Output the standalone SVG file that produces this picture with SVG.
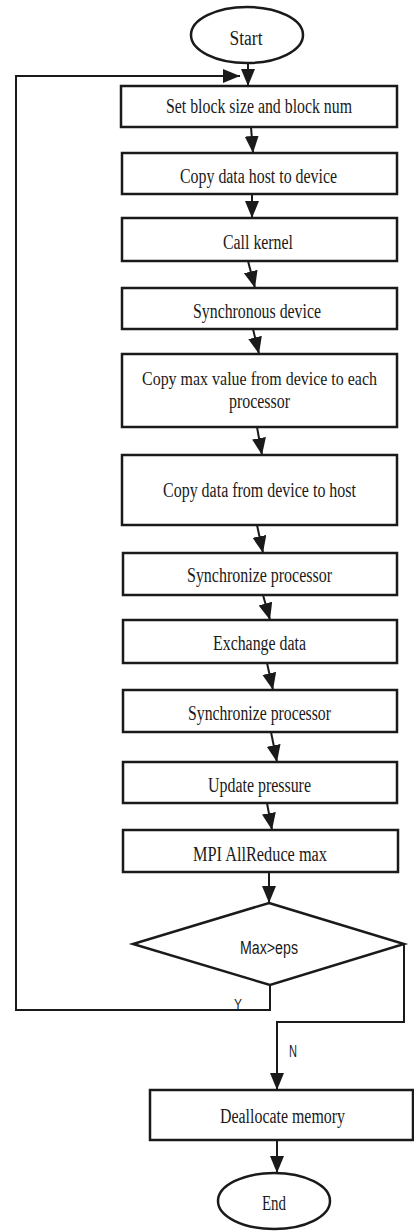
<svg xmlns="http://www.w3.org/2000/svg" width="414" height="1231" viewBox="0 0 414 1231">
<style>
.box{fill:#fff;stroke:#1a1a1a;stroke-width:2.5}
.t{font-family:"Liberation Serif","Times New Roman",serif;font-size:20px;fill:#1a1a1a;text-anchor:middle}
.s{font-family:"Liberation Sans",Arial,sans-serif;fill:#1a1a1a;text-anchor:middle}
.c{fill:none;stroke:#1a1a1a;stroke-width:2}
</style>
<defs>
<marker id="ah" markerUnits="userSpaceOnUse" markerWidth="18" markerHeight="16" refX="17" refY="7" orient="auto">
<path d="M0,0 L17,7 L0,14 z" fill="#1a1a1a"/>
</marker>
</defs>
<rect width="414" height="1231" fill="#fff"/>
<g id="connectors">
<line class="c" x1="248" y1="63" x2="248" y2="86" marker-end="url(#ah)"/>
<path class="c" d="M270,985 V1010 H16 V76 H240" marker-end="url(#ah)"/>
<line class="c" x1="251" y1="127" x2="253" y2="153" marker-end="url(#ah)"/>
<line class="c" x1="252" y1="194" x2="252" y2="218" marker-end="url(#ah)"/>
<line class="c" x1="248" y1="261" x2="255" y2="288" marker-end="url(#ah)"/>
<line class="c" x1="253" y1="329" x2="259" y2="354" marker-end="url(#ah)"/>
<line class="c" x1="257" y1="427" x2="262" y2="455" marker-end="url(#ah)"/>
<line class="c" x1="257" y1="525" x2="263" y2="553" marker-end="url(#ah)"/>
<line class="c" x1="263" y1="595" x2="270" y2="620" marker-end="url(#ah)"/>
<line class="c" x1="267" y1="663" x2="273" y2="690" marker-end="url(#ah)"/>
<line class="c" x1="271" y1="732" x2="277" y2="762" marker-end="url(#ah)"/>
<line class="c" x1="267" y1="803" x2="272" y2="830" marker-end="url(#ah)"/>
<line class="c" x1="269" y1="872" x2="269" y2="903" marker-end="url(#ah)"/>
<path class="c" d="M404,944 V1022 H277 V1090" marker-end="url(#ah)"/>
<line class="c" x1="277" y1="1140" x2="277" y2="1173" marker-end="url(#ah)"/>
<text class="s" x="238" y="1009" font-size="14" textLength="8" lengthAdjust="spacingAndGlyphs">Y</text>
<text class="s" x="293" y="1057" font-size="16" textLength="8" lengthAdjust="spacingAndGlyphs">N</text>
</g>
<g id="start">
<ellipse class="box" cx="247" cy="35" rx="56" ry="28"/>
<text class="t" x="246" y="45" textLength="33" lengthAdjust="spacingAndGlyphs">Start</text>
</g>
<g id="n1">
<rect class="box" x="121" y="86" width="276" height="41"/>
<text class="t" x="259" y="113" textLength="186" lengthAdjust="spacingAndGlyphs">Set block size and block num</text>
</g>
<g id="n2">
<rect class="box" x="122" y="153" width="275" height="41"/>
<text class="t" x="258.5" y="183" textLength="157" lengthAdjust="spacingAndGlyphs">Copy data host to device</text>
</g>
<g id="n3">
<rect class="box" x="122" y="218" width="275" height="43"/>
<text class="t" x="258" y="249" textLength="70" lengthAdjust="spacingAndGlyphs">Call kernel</text>
</g>
<g id="n4">
<rect class="box" x="122" y="288" width="275" height="41"/>
<text class="t" x="257" y="318" textLength="128" lengthAdjust="spacingAndGlyphs">Synchronous device</text>
</g>
<g id="n5">
<rect class="box" x="122" y="354" width="275" height="73"/>
<text class="t" x="259.5" y="385" style="font-size:18px" textLength="235" lengthAdjust="spacingAndGlyphs">Copy max value from device to each</text>
<text class="t" x="259.5" y="408" textLength="61" lengthAdjust="spacingAndGlyphs">processor</text>
</g>
<g id="n6">
<rect class="box" x="122" y="455" width="275" height="70"/>
<text class="t" x="259.5" y="497" textLength="193" lengthAdjust="spacingAndGlyphs">Copy data from device to host</text>
</g>
<g id="n7">
<rect class="box" x="123" y="553" width="274" height="42"/>
<text class="t" x="259.5" y="582" textLength="145" lengthAdjust="spacingAndGlyphs">Synchronize processor</text>
</g>
<g id="n8">
<rect class="box" x="123" y="620" width="274" height="43"/>
<text class="t" x="259.5" y="650" textLength="93" lengthAdjust="spacingAndGlyphs">Exchange data</text>
</g>
<g id="n9">
<rect class="box" x="123" y="690" width="274" height="42"/>
<text class="t" x="259.5" y="720" textLength="143" lengthAdjust="spacingAndGlyphs">Synchronize processor</text>
</g>
<g id="n10">
<rect class="box" x="123" y="762" width="274" height="41"/>
<text class="t" x="259.5" y="792" textLength="103" lengthAdjust="spacingAndGlyphs">Update pressure</text>
</g>
<g id="n11">
<rect class="box" x="123" y="830" width="275" height="42"/>
<text class="t" x="260" y="861" textLength="134" lengthAdjust="spacingAndGlyphs">MPI  AllReduce max</text>
</g>
<g id="decision">
<polygon class="box" points="269,903 404,944 270,985 133,944"/>
<text class="s" x="269" y="954" font-size="18" textLength="58" lengthAdjust="spacingAndGlyphs">Max&gt;eps</text>
</g>
<g id="n12">
<rect class="box" x="150" y="1090" width="263" height="50"/>
<text class="t" x="282.5" y="1123" textLength="125" lengthAdjust="spacingAndGlyphs">Deallocate memory</text>
</g>
<g id="end">
<ellipse class="box" cx="274" cy="1201" rx="56" ry="28"/>
<text class="t" x="274" y="1210" textLength="24" lengthAdjust="spacingAndGlyphs">End</text>
</g>
</svg>
